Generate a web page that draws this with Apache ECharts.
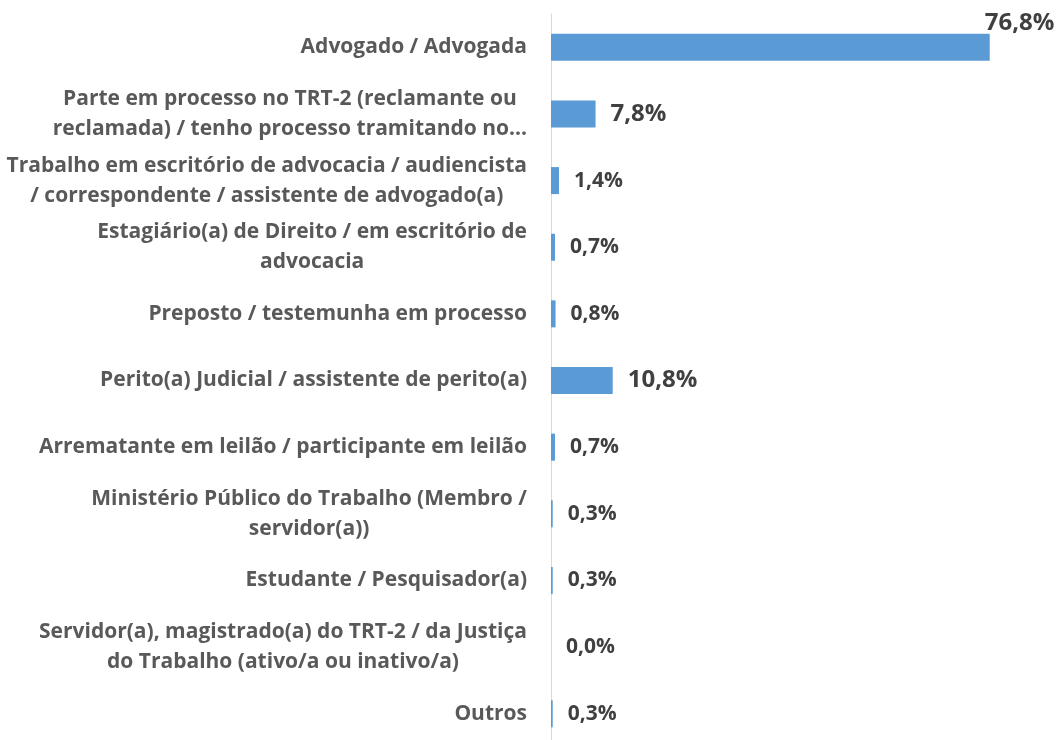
<!DOCTYPE html>
<html>
<head>
<meta charset="utf-8">
<script src="https://cdn.jsdelivr.net/npm/echarts@6/dist/echarts.min.js"></script>
<style>
html,body{margin:0;padding:0;background:#fff;}
#chart{width:1060px;height:740px;}
</style>
</head>
<body>
<div id="chart"></div>
<script>
var categories = [
  'Advogado / Advogada',
  'Parte em processo no TRT-2 (reclamante ou\nreclamada) / tenho processo tramitando no...',
  'Trabalho em escritório de advocacia / audiencista\n/ correspondente / assistente de advogado(a)',
  'Estagiário(a) de Direito / em escritório de\nadvocacia',
  'Preposto / testemunha em processo',
  'Perito(a) Judicial / assistente de perito(a)',
  'Arrematante em leilão / participante em leilão',
  'Ministério Público do Trabalho (Membro /\nservidor(a))',
  'Estudante / Pesquisador(a)',
  'Servidor(a), magistrado(a) do TRT-2 / da Justiça\ndo Trabalho (ativo/a ou inativo/a)',
  'Outros'
];
var values = [76.8, 7.8, 1.4, 0.7, 0.8, 10.8, 0.7, 0.3, 0.3, 0.0, 0.3];

var FONT = '"Open Sans", "Noto Sans", sans-serif';

var seriesData = values.map(function (v, i) {
  var big = v >= 5;
  var item = {
    value: v,
    label: { fontSize: big ? 24 : 21 }
  };
  if (i === 0) {
    item.label.offset = [-20, -24];
  }
  return item;
});

var chart = echarts.init(document.getElementById('chart'), null, {renderer: 'canvas'});
chart.setOption({
  animation: false,
  backgroundColor: '#ffffff',
  grid: { left: 551, width: 457, top: 14, height: 733, containLabel: false, outerBoundsMode: 'none' },
  xAxis: {
    type: 'value', min: 0, max: 80,
    show: false,
    splitLine: { show: false }
  },
  yAxis: {
    type: 'category',
    inverse: true,
    data: categories,
    axisLine: { show: true, lineStyle: { color: '#D9D9D9', width: 1 } },
    axisTick: { show: false },
    axisLabel: {
      margin: 24,
      align: 'right',
      formatter: function (val) {
        return val.split('\n').map(function (l) { return '{c|' + l + '}'; }).join('\n');
      },
      rich: {
        c: {
          align: 'center',
          fontFamily: FONT,
          fontWeight: 'bold',
          fontSize: 21,
          lineHeight: 30,
          color: '#595959'
        }
      }
    }
  },
  series: [{
    type: 'bar',
    data: seriesData,
    barWidth: 27,
    itemStyle: { color: '#5B9BD5' },
    label: {
      show: true,
      position: 'right',
      distance: 15,
      fontFamily: FONT,
      fontWeight: 'bold',
      color: '#404040',
      formatter: function (p) { return p.value.toFixed(1).replace('.', ',') + '%'; }
    }
  }]
});
</script>
</body>
</html>
